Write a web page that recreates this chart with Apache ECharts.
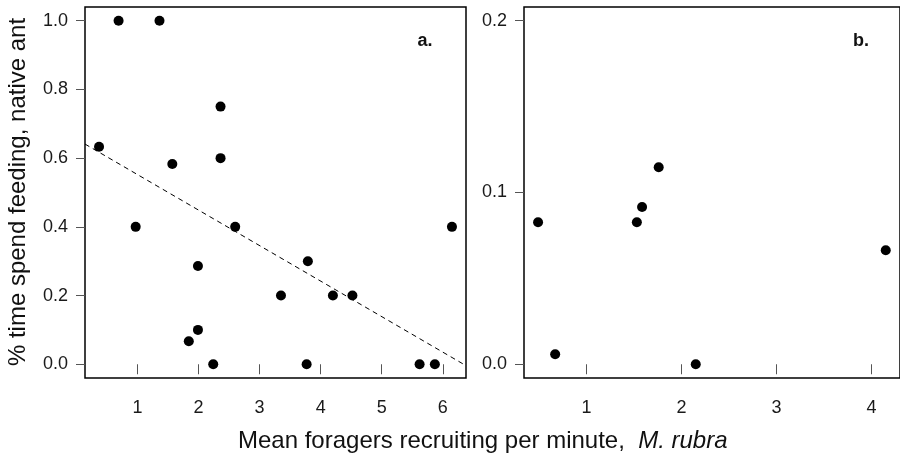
<!DOCTYPE html>
<html>
<head>
<meta charset="UTF-8">
<title>Feeding vs recruiting</title>
<script src="https://cdn.jsdelivr.net/npm/echarts@6/dist/echarts.min.js"></script>
<style>
  html, body { margin: 0; padding: 0; background: #fff; }
</style>
</head>
<body>
<div id="main" style="width:900px;height:456px;"></div>
<script>
    // panel a: foragers recruiting vs feeding time
    var xA = [0.69, 1.36, 2.36, 0.37, 1.57, 2.36, 0.97, 2.60, 6.15, 1.99,
              3.79, 3.35, 4.20, 4.52, 1.99, 1.84, 2.24, 3.77, 5.62, 5.87];
    var yA = [1.0, 1.0, 0.75, 0.633, 0.583, 0.60, 0.40, 0.40, 0.40, 0.286,
              0.30, 0.20, 0.20, 0.20, 0.10, 0.067, 0.0, 0.0, 0.0, 0.0];
    // fitted line, ends read at the plot edges
    var fitX = [0.14, 6.38];
    var fitY = [0.641, -0.004];

    // panel b
    var xB = [1.76, 0.49, 1.53, 1.585, 0.67, 2.15, 4.15];
    var yB = [0.1147, 0.0827, 0.0827, 0.0916, 0.0058, 0.0, 0.0664];

    var xTicksA = [1, 2, 3, 4, 5, 6];
    var yTicksA = [0, 0.2, 0.4, 0.6, 0.8, 1.0];
    var xTicksB = [1, 2, 3, 4];
    var yTicksB = [0, 0.1, 0.2];

    var zip = function (xs, ys) {
        return xs.map(function (x, i) { return [x, ys[i]]; });
    };

    var font = 'Liberation Sans, Arial, sans-serif';

    function xAxisOf(idx, min, max, ticks) {
        return {
            type: 'value', gridIndex: idx, min: min, max: max,
            axisLine: {show: false},
            splitLine: {show: false},
            axisTick: {show: true, length: 10, customValues: ticks,
                lineStyle: {color: '#555', width: 1}},
            axisLabel: {customValues: ticks, margin: 21, fontSize: 18,
                fontFamily: font, color: '#1a1a1a'}
        };
    }

    function yAxisOf(idx, min, max, ticks) {
        return {
            type: 'value', gridIndex: idx, min: min, max: max,
            axisLine: {show: false},
            splitLine: {show: false},
            axisTick: {show: true, length: 9, customValues: ticks,
                lineStyle: {color: '#555', width: 1}},
            axisLabel: {customValues: ticks, margin: 17, fontSize: 18,
                fontFamily: font, color: '#1a1a1a',
                formatter: function (v) { return v.toFixed(1); }}
        };
    }

    var myChart = echarts.init(document.getElementById('main'));

    var option = {
        backgroundColor: '#fff',
        animation: false,
        grid: [
            {left: 85, top: 7, width: 381, height: 371, show: true,
                borderColor: '#000', borderWidth: 1.5, backgroundColor: 'transparent'},
            {left: 524, top: 7, width: 381, height: 371, show: true,
                borderColor: '#000', borderWidth: 1.5, backgroundColor: 'transparent'}
        ],
        xAxis: [
            xAxisOf(0, 0.14, 6.38, xTicksA),
            xAxisOf(1, 0.342, 4.30, xTicksB)
        ],
        yAxis: [
            yAxisOf(0, -0.04, 1.04, yTicksA),
            yAxisOf(1, -0.008, 0.208, yTicksB)
        ],
        graphic: [
            {type: 'text', x: 18, y: 192, rotation: Math.PI / 2,
                style: {text: '% time spend feeding, native ant', fontSize: 24,
                    fontFamily: font, fill: '#111', align: 'center', verticalAlign: 'middle'}},
            {type: 'text', x: 238, y: 441,
                style: {text: '{n|Mean foragers recruiting per minute,  }{i|M. rubra}',
                    fontSize: 24, fontFamily: font, fill: '#111', verticalAlign: 'middle',
                    rich: {
                        n: {fontSize: 24, fontFamily: font, fill: '#111'},
                        i: {fontSize: 24, fontFamily: font, fill: '#111', fontStyle: 'italic'}
                    }}},
            {type: 'text', x: 425, y: 41,
                style: {text: 'a.', fontSize: 18, fontWeight: 'bold', fontFamily: font,
                    fill: '#111', align: 'center', verticalAlign: 'middle'}},
            {type: 'text', x: 861, y: 41,
                style: {text: 'b.', fontSize: 18, fontWeight: 'bold', fontFamily: font,
                    fill: '#111', align: 'center', verticalAlign: 'middle'}}
        ],
        series: [
            {type: 'scatter', xAxisIndex: 0, yAxisIndex: 0, data: zip(xA, yA),
                symbolSize: 10, itemStyle: {color: '#000', opacity: 1}},
            {type: 'line', xAxisIndex: 0, yAxisIndex: 0, data: zip(fitX, fitY),
                showSymbol: false, symbol: 'none',
                lineStyle: {color: '#000', width: 1, type: [5, 4]}},
            {type: 'scatter', xAxisIndex: 1, yAxisIndex: 1, data: zip(xB, yB),
                symbolSize: 10, itemStyle: {color: '#000', opacity: 1}}
        ]
    };

    myChart.setOption(option);
</script>
</body>
</html>
